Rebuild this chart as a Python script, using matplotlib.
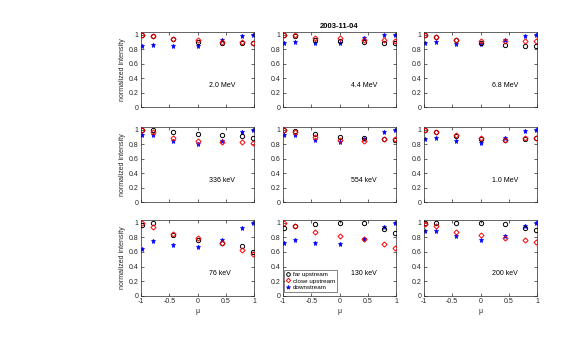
import matplotlib
matplotlib.use("Agg")
import matplotlib.pyplot as plt

plt.rcParams['font.family'] = ['Liberation Sans', 'DejaVu Sans']

mu = [-0.98, -0.79, -0.44, 0.0, 0.44, 0.79, 0.98]

energies = ["2.0 MeV", "4.4 MeV", "6.8 MeV",
            "336 keV", "554 keV", "1.0 MeV",
            "76 keV", "130 keV", "200 keV"]

far_upstream = [
    [1.00, 0.98, 0.94, 0.90, 0.89, 0.89, 0.89],
    [1.00, 0.98, 0.93, 0.91, 0.90, 0.88, 0.88],
    [1.00, 0.97, 0.92, 0.88, 0.86, 0.85, 0.84],
    [1.00, 0.99, 0.97, 0.94, 0.93, 0.91, 0.89],
    [1.00, 0.98, 0.94, 0.90, 0.88, 0.87, 0.86],
    [1.00, 0.97, 0.91, 0.87, 0.86, 0.87, 0.88],
    [0.97, 1.00, 0.83, 0.76, 0.73, 0.68, 0.60],
    [0.93, 0.96, 0.98, 1.00, 1.00, 0.91, 0.86],
    [1.00, 1.00, 1.00, 1.00, 0.99, 0.93, 0.90],
]
close_upstream = [
    [1.00, 0.98, 0.94, 0.92, 0.90, 0.90, 0.89],
    [1.00, 0.99, 0.95, 0.95, 0.93, 0.92, 0.91],
    [1.00, 0.97, 0.93, 0.91, 0.91, 0.91, 0.91],
    [1.00, 0.97, 0.89, 0.85, 0.83, 0.83, 0.82],
    [1.00, 0.97, 0.90, 0.86, 0.85, 0.87, 0.87],
    [1.00, 0.97, 0.92, 0.88, 0.86, 0.88, 0.88],
    [1.00, 0.94, 0.85, 0.79, 0.72, 0.63, 0.57],
    [1.00, 0.96, 0.88, 0.82, 0.78, 0.71, 0.65],
    [0.99, 0.96, 0.88, 0.83, 0.79, 0.76, 0.74],
]
downstream = [
    [0.85, 0.86, 0.84, 0.85, 0.92, 0.98, 1.00],
    [0.88, 0.90, 0.88, 0.89, 0.95, 0.99, 1.00],
    [0.88, 0.90, 0.87, 0.87, 0.93, 0.98, 1.00],
    [0.93, 0.92, 0.85, 0.80, 0.85, 0.97, 1.00],
    [0.93, 0.92, 0.86, 0.83, 0.87, 0.97, 1.00],
    [0.87, 0.88, 0.85, 0.82, 0.88, 0.98, 1.00],
    [0.64, 0.75, 0.69, 0.67, 0.76, 0.93, 1.00],
    [0.72, 0.77, 0.73, 0.71, 0.78, 0.94, 1.00],
    [0.89, 0.89, 0.82, 0.77, 0.82, 0.96, 1.00],
]

W, H = 565, 348
fig = plt.figure(figsize=(W / 100, H / 100), dpi=100)

col_left = [141, 283, 424]
col_w = 113
row_top = [31.7, 126.7, 220]
row_h = 75.6

axc = (0.15, 0.15, 0.15)
fs = 5
for i in range(9):
    r, c = divmod(i, 3)
    ax = fig.add_axes([col_left[c] / W, 1 - (row_top[r] + row_h) / H,
                       col_w / W, row_h / H])
    ax.plot(mu, far_upstream[i], 'o', mfc='none', mec='black', ms=3.1, mew=0.7,
            label='far upstream', zorder=3)
    ax.plot(mu, close_upstream[i], 'D', mfc='none', mec='red', ms=2.6, mew=0.7,
            label='close upstream', zorder=3)
    ax.plot(mu, downstream[i], '*', color='blue', ms=3.6, mew=0.5,
            label='downstream', zorder=2)
    ax.set_xlim(-1, 1)
    ax.set_ylim(0, 1.04)
    ax.set_xticks([-1, -0.5, 0, 0.5, 1])
    ax.set_yticks([0, 0.2, 0.4, 0.6, 0.8, 1])
    ax.set_yticklabels(['0', '0.2', '0.4', '0.6', '0.8', '1'])
    ax.tick_params(direction='in', length=2, width=0.5, labelsize=fs,
                   colors=axc, top=True, right=True, pad=2)
    for s in ax.spines.values():
        s.set_linewidth(0.5)
        s.set_color(axc)
    if r < 2:
        ax.set_xticklabels([])
    else:
        ax.set_xticklabels(['-1', '-0.5', '0', '0.5', '1'])
        ax.set_xlabel('μ', fontsize=fs, color=axc, labelpad=2)
    if c == 0:
        ax.set_ylabel('normalized intensity', fontsize=fs, color=axc, labelpad=2)
    ax.text(0.2, 0.3, energies[i], fontsize=fs, ha='left', va='center')
    if i == 1:
        ax.set_title('2003-11-04', fontsize=5.5, fontweight='bold', pad=3)
    if i == 7:
        leg = ax.legend(loc='lower left', fontsize=4.5, frameon=True, fancybox=False,
                        edgecolor=axc, borderpad=0.3, handletextpad=0.4,
                        labelspacing=0.15, handlelength=0.8, markerscale=0.85,
                        borderaxespad=0.0, bbox_to_anchor=(0.005, 0.05))
        leg.get_frame().set_linewidth(0.5)

fig.savefig('out.png', dpi=100)
